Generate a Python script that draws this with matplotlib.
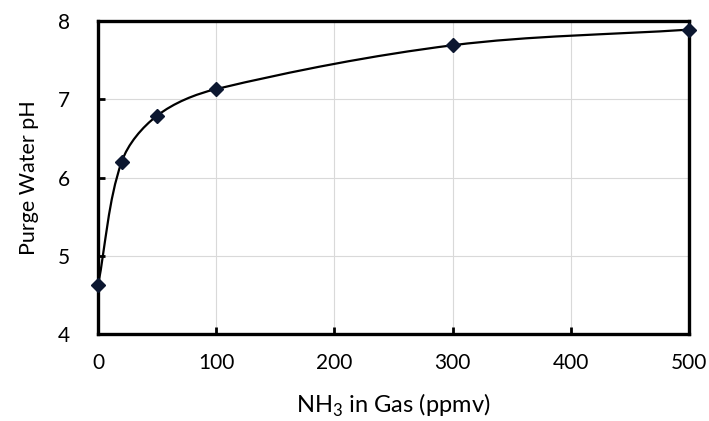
import numpy as np
import matplotlib
matplotlib.use('Agg')
import matplotlib.pyplot as plt
from matplotlib.path import Path
from matplotlib.patches import PathPatch

plt.rcParams['font.family'] = ['Lato', 'DejaVu Sans']
plt.rcParams['mathtext.fontset'] = 'custom'
plt.rcParams['mathtext.rm'] = 'Lato'

nh3_ppmv = [0, 20, 50, 100, 300, 500]
purge_ph = [4.62, 6.20, 6.79, 7.13, 7.69, 7.89]

x_ticks = [0, 100, 200, 300, 400, 500]
y_ticks = [4, 5, 6, 7, 8]

fig = plt.figure(figsize=(7.09, 4.21), dpi=100)
ax = fig.add_axes([98 / 709, 1 - 334 / 421, 591 / 709, 313 / 421])
ax.set_xlim(0, 500)
ax.set_ylim(4, 8)


def smooth_path(xs, ys, sx, sy):
    # smoothed line through the points, bezier handles weighted by chord length
    p = np.column_stack([np.array(xs) * sx, np.array(ys) * sy])
    n = len(p)
    d = np.hypot(*(p[1:] - p[:-1]).T)
    verts = [p[0]]
    codes = [Path.MOVETO]
    for i in range(n - 1):
        if i > 0:
            t1 = (p[i + 1] - p[i - 1]) * d[i] / (d[i - 1] + d[i])
        else:
            t1 = p[i + 1] - p[i]
        if i + 2 < n:
            t2 = (p[i + 2] - p[i]) * d[i] / (d[i] + d[i + 1])
        else:
            t2 = p[i + 1] - p[i]
        verts += [p[i] + t1 / 3, p[i + 1] - t2 / 3, p[i + 1]]
        codes += [Path.CURVE4] * 3
    verts = np.array(verts)
    verts[:, 0] /= sx
    verts[:, 1] /= sy
    return Path(verts, codes)


sx = 591 / 500
sy = 313 / 4
ax.add_patch(PathPatch(smooth_path(nh3_ppmv, purge_ph, sx, sy),
                       facecolor='none', edgecolor='black', lw=1.6, zorder=3))
ax.plot(nh3_ppmv, purge_ph, linestyle='none', marker='D', markersize=7,
        color='#0c1730', zorder=4, clip_on=False)

ax.set_xticks(x_ticks)
ax.set_yticks(y_ticks)
ax.grid(True, color='#d9d9d9', lw=0.8)
ax.set_axisbelow(True)
for s in ax.spines.values():
    s.set_linewidth(2.4)
ax.tick_params(direction='in', length=5, width=2, labelsize=15,
               colors='black', pad=14)
ax.tick_params(axis='y', pad=20)

ax.set_xlabel('NH$_3$ in Gas (ppmv)', fontsize=17, labelpad=13)
ax.set_ylabel('Purge Water pH', fontsize=15.5, labelpad=14)

fig.savefig('out.png', dpi=100)
